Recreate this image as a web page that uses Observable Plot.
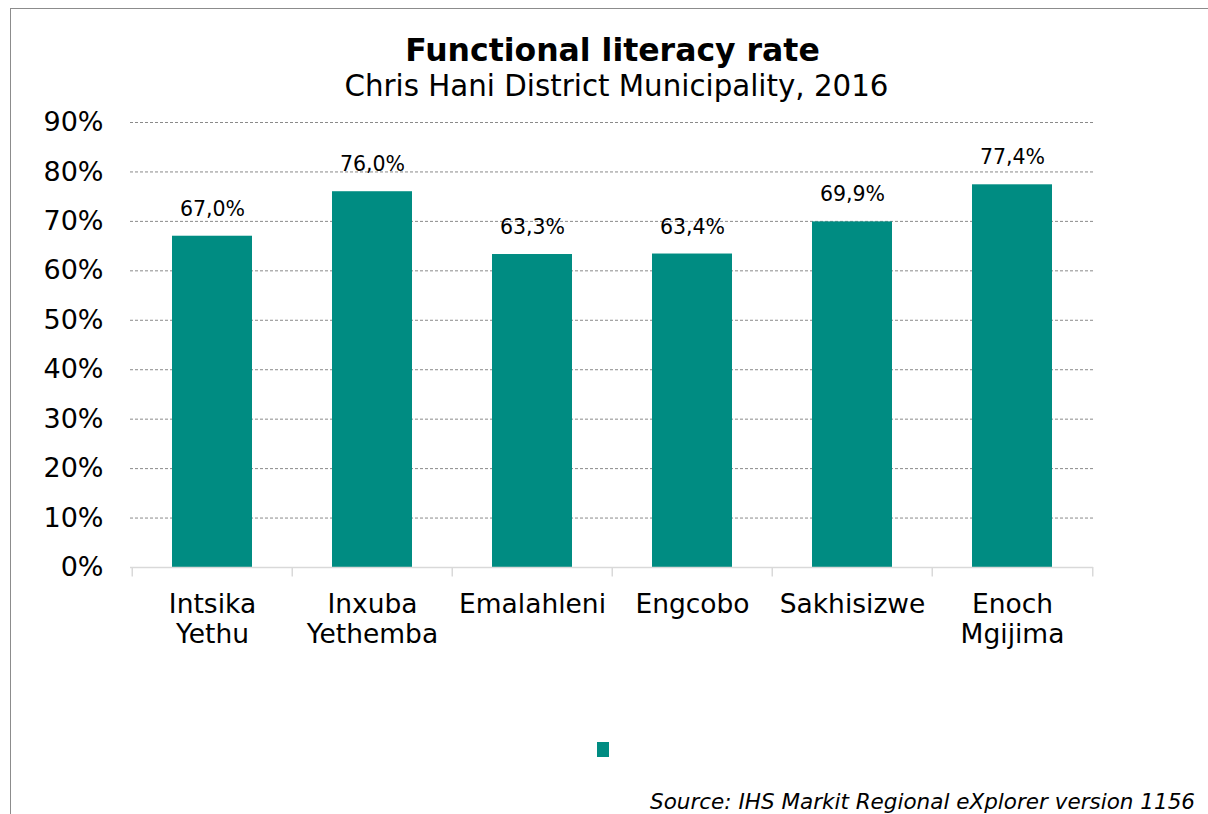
<!DOCTYPE html>
<html>
<head>
<meta charset="utf-8">
<script src="https://cdn.jsdelivr.net/npm/d3@7"></script>
<script src="https://cdn.jsdelivr.net/npm/@observablehq/plot@0.6"></script>
<style>
  html, body { margin: 0; padding: 0; background: #fff; }
  #wrap { position: relative; width: 1208px; height: 814px; overflow: hidden; font-family: "DejaVu Sans", Verdana, sans-serif; color: #000; }
  #frame { position: absolute; left: 10px; top: 8px; width: 1300px; height: 900px; border: 1.5px solid #8c8c8c; box-sizing: border-box; }
  #chart { position: absolute; left: 0; top: 0; }
  #title { position: absolute; left: 0; width: 1225px; top: 31px; text-align: center; font-weight: bold; font-size: 31.5px; line-height: 38px; }
  #subtitle { position: absolute; left: 0; width: 1233px; top: 69px; text-align: center; font-size: 29.3px; line-height: 35px; }
  #legend { position: absolute; left: 597px; top: 742px; width: 12px; height: 15px; background: #008C82; }
  #source { position: absolute; right: 13px; top: 791px; font-style: italic; font-size: 21.5px; line-height: 22px; white-space: nowrap; }
</style>
</head>
<body>
<div id="wrap">
  <div id="frame"></div>
  <div id="chart"></div>
  <div id="title">Functional literacy rate</div>
  <div id="subtitle">Chris Hani District Municipality, 2016</div>
  <div id="legend"></div>
  <div id="source">Source: IHS Markit Regional eXplorer version 1156</div>
</div>
<script>
const categories = ["Intsika\nYethu", "Inxuba\nYethemba", "Emalahleni", "Engcobo", "Sakhisizwe", "Enoch\nMgijima"];
const values = [0.670, 0.760, 0.633, 0.634, 0.699, 0.774];
const yTicks = [0, 0.1, 0.2, 0.3, 0.4, 0.5, 0.6, 0.7, 0.8, 0.9];
const gridTicks = [0.1, 0.2, 0.3, 0.4, 0.5, 0.6, 0.7, 0.8, 0.9];

const data = categories.map((c, i) => ({ cat: c, value: values[i] }));
const teal = "#008C82";
const fmtLabel = v => (v * 100).toFixed(1).replace(".", ",") + "%";
const fmtTick = v => Math.round(v * 100) + "%";

const halfStep = 160.5 / 2;

const chart = Plot.plot({
  width: 1208,
  height: 700,
  marginLeft: 130,
  marginRight: 115,
  marginTop: 122,
  marginBottom: 133,
  style: { fontFamily: "'DejaVu Sans', Verdana, sans-serif", fontSize: "24px", color: "#000", background: "transparent", overflow: "visible" },
  x: { domain: categories, paddingInner: 0.5, paddingOuter: 0.25, label: null },
  y: { domain: [0, 0.9], label: null },
  marks: [
    Plot.ruleY(gridTicks, { stroke: "#8a8a8a", strokeWidth: 1, strokeDasharray: "3,2" }),
    Plot.barY(data, { x: "cat", y: "value", fill: teal }),
    Plot.ruleY([0], { stroke: "#d9d9d9", strokeWidth: 1.5 }),
    Plot.ruleX(categories, { x: d => d, dx: -halfStep, y1: 0, y2: -0.019, stroke: "#d9d9d9", strokeWidth: 1.5 }),
    Plot.ruleX([categories[categories.length - 1]], { x: d => d, dx: halfStep, y1: 0, y2: -0.019, stroke: "#d9d9d9", strokeWidth: 1.5 }),
    Plot.text(data, { x: "cat", y: "value", text: d => fmtLabel(d.value), dy: -27, fontSize: 20.5, fill: "#000" }),
    Plot.axisY({ ticks: yTicks, tickFormat: fmtTick, tickSize: 0, tickPadding: 27, fontSize: 27, label: null }),
    Plot.axisX({ tickSize: 0, tickPadding: 24, fontSize: 26.5, lineHeight: 1.13, label: null })
  ]
});
document.getElementById("chart").appendChild(chart);
</script>
</body>
</html>
